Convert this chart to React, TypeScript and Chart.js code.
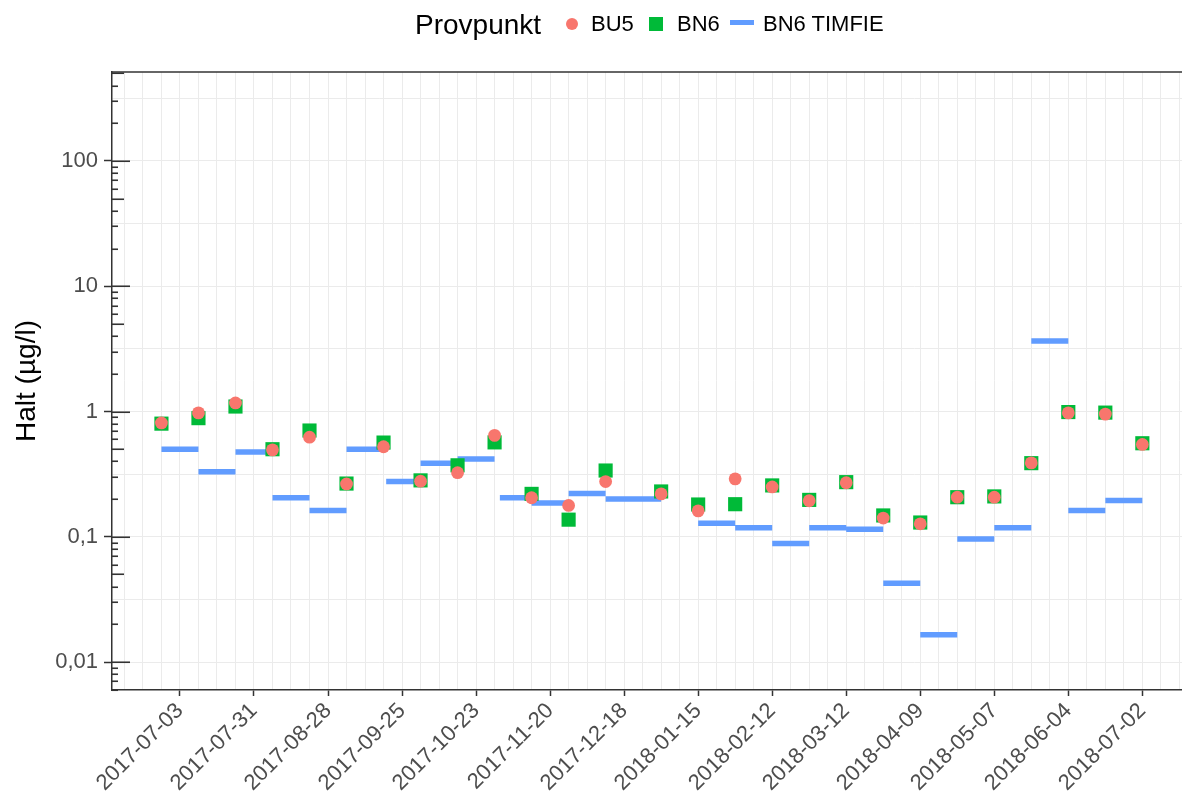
import React, { useEffect, useRef } from 'react';
import { Chart, registerables } from 'chart.js';

Chart.register(...registerables);

// ---- data ----
const sampleDates = [
  '2017-06-26', '2017-07-10', '2017-07-24', '2017-08-07', '2017-08-21', '2017-09-04',
  '2017-09-18', '2017-10-02', '2017-10-16', '2017-10-30', '2017-11-13', '2017-11-27',
  '2017-12-11', '2018-01-01', '2018-01-15', '2018-01-29', '2018-02-12', '2018-02-26',
  '2018-03-12', '2018-03-26', '2018-04-09', '2018-04-23', '2018-05-07', '2018-05-21',
  '2018-06-04', '2018-06-18', '2018-07-02',
];
const bu5Values = [
  0.81, 0.975, 1.17, 0.494, 0.624, 0.264,
  0.523, 0.278, 0.325, 0.645, 0.205, 0.178,
  0.276, 0.22, 0.161, 0.29, 0.25, 0.194,
  0.27, 0.141, 0.127, 0.207, 0.207, 0.389,
  0.975, 0.953, 0.546,
];
const bn6Values = [
  0.80, 0.885, 1.096, 0.50, 0.705, 0.266,
  0.565, 0.282, 0.372, 0.567, 0.22, 0.137,
  0.338, 0.23, 0.181, 0.182, 0.257, 0.197,
  0.273, 0.148, 0.13, 0.207, 0.21, 0.387,
  0.99, 0.98, 0.558,
];
const timfieStart = [
  '2017-06-26', '2017-07-10', '2017-07-24', '2017-08-07', '2017-08-21', '2017-09-04',
  '2017-09-19', '2017-10-02', '2017-10-16', '2017-11-01', '2017-11-13', '2017-11-27',
  '2017-12-11', '2018-01-15', '2018-01-29', '2018-02-12', '2018-02-26', '2018-03-12',
  '2018-03-26', '2018-04-09', '2018-04-23', '2018-05-07', '2018-05-21', '2018-06-04',
  '2018-06-18',
];
const timfieEnd = [
  '2017-07-10', '2017-07-24', '2017-08-07', '2017-08-21', '2017-09-04', '2017-09-18',
  '2017-10-02', '2017-10-16', '2017-10-30', '2017-11-13', '2017-11-27', '2017-12-11',
  '2018-01-01', '2018-01-29', '2018-02-12', '2018-02-26', '2018-03-12', '2018-03-26',
  '2018-04-09', '2018-04-23', '2018-05-07', '2018-05-21', '2018-06-04', '2018-06-18',
  '2018-07-02',
];
const timfieValues = [
  0.50, 0.33, 0.475, 0.205, 0.162, 0.50,
  0.276, 0.387, 0.418, 0.205, 0.186, 0.222,
  0.20, 0.128, 0.118, 0.0885, 0.118, 0.115,
  0.0425, 0.0165, 0.096, 0.118, 3.66, 0.162,
  0.195,
];
const xTickDates = [
  '2017-07-03', '2017-07-31', '2017-08-28', '2017-09-25', '2017-10-23', '2017-11-20',
  '2017-12-18', '2018-01-15', '2018-02-12', '2018-03-12', '2018-04-09', '2018-05-07',
  '2018-06-04', '2018-07-02',
];
const yTickValues = [0.01, 0.1, 1, 10, 100];
const yTickLabels = ['0,01', '0,1', '1', '10', '100'];

const seriesNames = ['BU5', 'BN6', 'BN6 TIMFIE'];
const seriesColors = ['#F8766D', '#00BA38', '#619CFF'];
const legendTitle = 'Provpunkt';
const yTitle = 'Halt (µg/l)';

// ---- helpers ----
const DAY = 86400000;
const FONT = '"Liberation Sans", Arial, sans-serif';
const toMs = (s: string) => Date.parse(s + 'T00:00:00Z');
const fmtDate = (v: number) => new Date(v).toISOString().slice(0, 10);

const X0 = toMs(xTickDates[0]);
const X_MIN = X0 - 25.7 * DAY;
const X_MAX = X0 + 379.0 * DAY;
const Y_MIN = Math.pow(10, -2.223);
const Y_MAX = Math.pow(10, 2.71);

const majorX = new Set(xTickDates.map(toMs));
const isDecade = (v: number) => {
  const l = Math.log10(v);
  return Math.abs(l - Math.round(l)) < 1e-6;
};

const logTicksPlugin = {
  id: 'logticks',
  beforeDatasetsDraw(chart: any) {
    const { ctx, chartArea } = chart;
    const y = chart.scales.y;
    ctx.save();
    ctx.strokeStyle = '#333333';
    ctx.lineWidth = 1.6;
    for (let e = -3; e <= 3; e++) {
      for (let m = 1; m <= 9; m++) {
        const v = m * Math.pow(10, e);
        if (v < y.min || v > y.max) continue;
        const py = Math.round(y.getPixelForValue(v)) + 0.25;
        const len = m === 1 ? 18 : m === 5 ? 12 : 6;
        ctx.beginPath();
        ctx.moveTo(chartArea.left, py);
        ctx.lineTo(chartArea.left + len, py);
        ctx.stroke();
      }
    }
    ctx.beginPath();
    ctx.moveTo(chartArea.left, chartArea.top);
    ctx.lineTo(chartArea.right, chartArea.top);
    ctx.stroke();
    ctx.restore();
  },
};

export default function App() {
  const ref = useRef<HTMLCanvasElement | null>(null);

  useEffect(() => {
    if (!ref.current) return;

    const bu5 = sampleDates.map((d, i) => ({ x: toMs(d), y: bu5Values[i] }));
    const bn6 = sampleDates.map((d, i) => ({ x: toMs(d), y: bn6Values[i] }));
    const timfie: any[] = [];
    timfieValues.forEach((v, i) => {
      timfie.push({ x: toMs(timfieStart[i]), y: v });
      timfie.push({ x: toMs(timfieEnd[i]), y: v });
      timfie.push({ x: toMs(timfieEnd[i]), y: null });
    });

    const chart = new Chart(ref.current, {
      type: 'line',
      data: {
        datasets: [
          {
            type: 'scatter',
            label: seriesNames[0],
            data: bu5,
            pointStyle: 'circle',
            pointRadius: 6.4,
            pointBorderWidth: 0,
            backgroundColor: seriesColors[0],
            borderColor: seriesColors[0],
            showLine: false,
          } as any,
          {
            type: 'scatter',
            label: seriesNames[1],
            data: bn6,
            pointStyle: 'rect',
            pointRadius: 10,
            pointBorderWidth: 0,
            backgroundColor: seriesColors[1],
            borderColor: seriesColors[1],
            showLine: false,
          } as any,
          {
            type: 'line',
            label: seriesNames[2],
            data: timfie,
            borderColor: seriesColors[2],
            backgroundColor: seriesColors[2],
            borderWidth: 5.5,
            borderCapStyle: 'butt',
            pointRadius: 0,
            spanGaps: false,
            fill: false,
            tension: 0,
          } as any,
        ],
      },
      options: {
        responsive: false,
        maintainAspectRatio: false,
        animation: false,
        events: [],
        layout: { autoPadding: false, padding: { top: 72, left: 0, right: 0, bottom: 0 } },
        plugins: { legend: { display: false }, tooltip: { enabled: false } },
        scales: {
          x: {
            type: 'linear',
            min: X_MIN,
            max: X_MAX,
            afterBuildTicks: (scale: any) => {
              const t: any[] = [];
              let v = X0;
              while (v - 7 * DAY >= X_MIN) v -= 7 * DAY;
              for (; v <= X_MAX; v += 7 * DAY) t.push({ value: v });
              scale.ticks = t;
            },
            afterFit: (scale: any) => {
              scale.height = 117;
              scale.paddingLeft = 0;
              scale.paddingRight = 0;
            },
            ticks: {
              autoSkip: false,
              minRotation: 45,
              maxRotation: 45,
              padding: 2,
              color: '#4D4D4D',
              font: { family: FONT, size: 22 },
              callback: (v: any) => (majorX.has(v) ? fmtDate(v) : ''),
            },
            grid: {
              color: '#EBEBEB',
              lineWidth: 1,
              tickLength: 6,
              tickWidth: 1.5,
              tickColor: (c: any) => (c.tick && majorX.has(c.tick.value) ? '#333333' : 'rgba(0,0,0,0)'),
            },
            border: { color: '#333333', width: 1.5 },
          },
          y: {
            type: 'logarithmic',
            min: Y_MIN,
            max: Y_MAX,
            afterBuildTicks: (scale: any) => {
              const t: any[] = [];
              for (let e = -3; e <= 3; e += 0.5) {
                const v = Math.pow(10, e);
                if (v >= Y_MIN && v <= Y_MAX) t.push({ value: v });
              }
              scale.ticks = t;
            },
            afterFit: (scale: any) => {
              scale.width = 112;
              scale.paddingTop = 0;
              scale.paddingBottom = 0;
            },
            ticks: {
              autoSkip: false,
              padding: 6,
              color: '#4D4D4D',
              font: { family: FONT, size: 22 },
              callback: (v: any) => {
                if (!isDecade(v)) return '';
                const i = yTickValues.findIndex((t) => Math.abs(Math.log10(t) - Math.log10(v)) < 1e-6);
                return i >= 0 ? yTickLabels[i] : '';
              },
            },
            title: {
              display: true,
              text: yTitle,
              color: '#000000',
              font: { family: FONT, size: 28 },
              padding: { top: 10.5, bottom: 0 },
            },
            grid: {
              color: '#EBEBEB',
              lineWidth: 1,
              tickLength: 8,
              tickWidth: 1.5,
              tickColor: (c: any) => (c.tick && isDecade(c.tick.value) ? '#333333' : 'rgba(0,0,0,0)'),
            },
            border: { color: '#333333', width: 1.5 },
          },
        },
      } as any,
      plugins: [logTicksPlugin],
    });

    return () => chart.destroy();
  }, []);

  const textStyle = (left: number, top: number, size: number): React.CSSProperties => ({
    position: 'absolute',
    left,
    top,
    fontFamily: FONT,
    fontSize: size,
    lineHeight: `${size}px`,
    color: '#000',
    whiteSpace: 'nowrap',
  });

  return (
    <div style={{ position: 'fixed', left: 0, top: 0, width: 1182, height: 807, background: '#fff' }}>
      <canvas ref={ref} width={1182} height={807} style={{ display: 'block', width: 1182, height: 807 }} />
      <div style={textStyle(415, 11, 28)}>{legendTitle}</div>
      <div
        style={{
          position: 'absolute', left: 572 - 6.3, top: 24 - 6.3, width: 12.6, height: 12.6,
          borderRadius: '50%', background: seriesColors[0],
        }}
      />
      <div style={textStyle(591, 13, 22)}>{seriesNames[0]}</div>
      <div
        style={{ position: 'absolute', left: 649, top: 17, width: 14, height: 14, background: seriesColors[1] }}
      />
      <div style={textStyle(677, 13, 22)}>{seriesNames[1]}</div>
      <div
        style={{ position: 'absolute', left: 730, top: 19.5, width: 24, height: 5.5, background: seriesColors[2] }}
      />
      <div style={textStyle(763, 13, 22)}>{seriesNames[2]}</div>
    </div>
  );
}
